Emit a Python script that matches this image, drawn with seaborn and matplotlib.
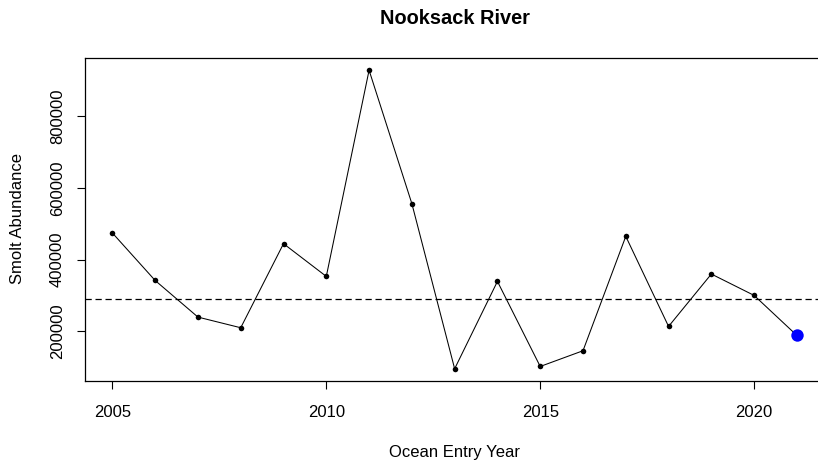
import matplotlib
matplotlib.use("Agg")
import matplotlib.pyplot as plt
import seaborn as sns
import pandas as pd

years = [2005, 2006, 2007, 2008, 2009, 2010, 2011, 2012, 2013,
         2014, 2015, 2016, 2017, 2018, 2019, 2020, 2021]
abundance = [474500, 342000, 240000, 210300, 444600, 353400, 928000, 556200, 96000,
             339500, 102400, 146200, 465000, 214000, 360000, 300400, 188800]
mean_line = 290400
highlight_year = 2021
title = "Nooksack River"
xlabel = "Ocean Entry Year"
ylabel = "Smolt Abundance"
xticks = [2005, 2010, 2015, 2020]
yticks = [200000, 400000, 600000, 800000]

sns.set_style("white")
plt.rcParams['font.family'] = ['Liberation Sans', 'DejaVu Sans']
plt.rcParams['text.color'] = 'black'
plt.rcParams['axes.labelcolor'] = 'black'
plt.rcParams['axes.titlecolor'] = 'black'

df = pd.DataFrame({"year": years, "abundance": abundance})
last = df[df["year"] == highlight_year]
rest = df[df["year"] != highlight_year]

fig = plt.figure(figsize=(8.18, 4.63), dpi=100)
W, H = 818, 463
left, right, top, bottom = 85, 824.3, 58.3, 380.7
ax = fig.add_axes([left / W, (H - bottom) / H, (right - left) / W, (bottom - top) / H])

sns.lineplot(data=df, x="year", y="abundance", ax=ax, color="black", linewidth=0.75)
sns.scatterplot(data=rest, x="year", y="abundance", ax=ax, color="black", s=16,
                edgecolor="black", linewidth=0, zorder=3)
sns.scatterplot(data=last, x="year", y="abundance", ax=ax, color="blue", s=80,
                edgecolor="blue", linewidth=0, zorder=4)
ax.axhline(mean_line, color="black", linewidth=0.9, linestyle=(0, (5, 3)))

xr = max(years) - min(years)
ax.set_xlim(min(years) - 0.04 * xr, max(years) + 0.04 * xr)
yr = max(abundance) - min(abundance)
ax.set_ylim(min(abundance) - 0.04 * yr, max(abundance) + 0.04 * yr)

ax.set_xticks(xticks)
ax.set_xticklabels([str(t) for t in xticks])
ax.set_yticks(yticks)
ax.set_yticklabels([str(t) for t in yticks], rotation=90, va="center")
ax.tick_params(axis="both", direction="out", length=5.5, width=0.8, color="black",
               labelsize=12, labelcolor="black", bottom=True, left=True)
ax.tick_params(axis="x", pad=12)
ax.tick_params(axis="y", pad=9)

for s in ax.spines.values():
    s.set_color("black")
    s.set_linewidth(0.9)
ax.spines["right"].set_visible(False)

ax.set_xlabel(xlabel, fontsize=12, color="black", va="center")
ax.set_ylabel(ylabel, fontsize=12, color="black", va="center")
ax.xaxis.set_label_coords((454.6 - left) / (right - left), (bottom - 452) / (bottom - top))
ax.yaxis.set_label_coords((17 - left) / (right - left), (bottom - 219) / (bottom - top))
ax.set_title(title, fontsize=14.4, fontweight="bold", color="black",
             y=(bottom - 18) / (bottom - top), va="center", pad=0)

fig.savefig("out.png", dpi=100)
